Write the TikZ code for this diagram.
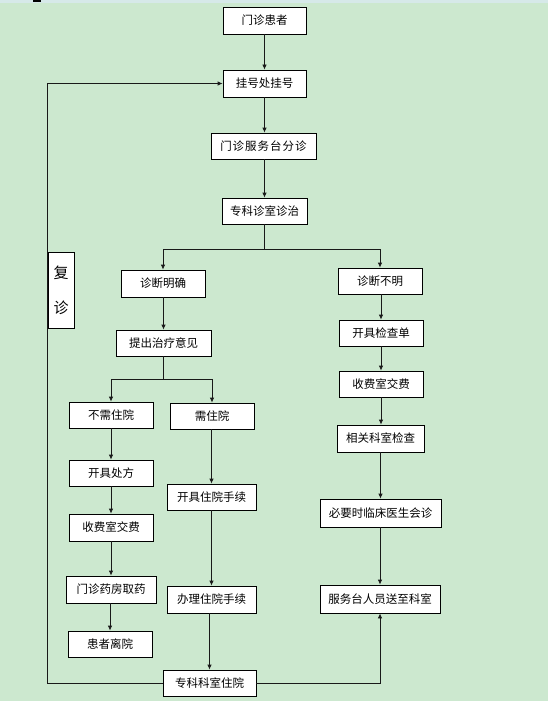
\documentclass[tikz,border=0pt]{standalone}
\usepackage{fontspec}
\newfontfamily\cjk{Noto Sans CJK SC}
\usetikzlibrary{arrows.meta}
\definecolor{bg}{RGB}{204,232,207}
\definecolor{topstrip}{RGB}{214,233,233}
\begin{document}
\begin{tikzpicture}[x=1pt,y=-1pt,
  box/.style={draw=black,fill=white,line width=0.8pt,inner sep=0pt,font=\cjk\fontsize{11.5}{13}\selectfont},
  ln/.style={line width=0.8pt,draw=black!90},
  arr/.style={ln,-{Latex[length=5pt,width=4.5pt]}}]
\fill[bg] (0,0) rectangle (548,701);
\useasboundingbox (0,0) rectangle (548,701);
\fill[topstrip] (0,0) rectangle (548,3);
\fill[black] (33,0) rectangle (41,2);
% nodes
\node[box,minimum width=83pt,minimum height=27pt] (a) at (264.5,20.5) {门诊患者};
\node[box,minimum width=83pt,minimum height=27pt] (b) at (264.5,83.5) {挂号处挂号};
\node[box,minimum width=105pt,minimum height=26pt] (c) at (263.5,146) {门\hspace{1pt}诊\hspace{1pt}服\hspace{1pt}务\hspace{1pt}台\hspace{1pt}分\hspace{1pt}诊};
\node[box,minimum width=85pt,minimum height=26pt] (d) at (264.5,211) {专科诊室诊治};
\node[box,minimum width=84pt,minimum height=27pt] (e) at (163,283.5) {诊断明确};
\node[box,minimum width=84pt,minimum height=26pt] (f) at (380,281) {诊断不明};
\node[box,minimum width=26pt,minimum height=76pt,font=\cjk\fontsize{15}{35}\selectfont,align=center] (g) at (61,290) {复\\诊};
\node[box,minimum width=95pt,minimum height=26pt] (h) at (163.5,343) {提出治疗意见};
\node[box,minimum width=84pt,minimum height=26pt] (i) at (111,415) {不需住院};
\node[box,minimum width=84pt,minimum height=26pt] (j) at (212,416) {需住院};
\node[box,minimum width=84pt,minimum height=26pt] (k) at (381,333) {开具检查单};
\node[box,minimum width=84pt,minimum height=26pt] (l) at (381,384) {收费室交费};
\node[box,minimum width=87pt,minimum height=27pt] (m) at (380.5,438.5) {相关科室检查};
\node[box,minimum width=84pt,minimum height=26pt] (n) at (111,473) {开具处方};
\node[box,minimum width=89pt,minimum height=26pt] (o) at (211.5,497) {开具住院手续};
\node[box,minimum width=84pt,minimum height=27pt] (p) at (111,527.5) {收费室交费};
\node[box,minimum width=90pt,minimum height=27pt] (q) at (111,589.5) {门诊药房取药};
\node[box,minimum width=84pt,minimum height=26pt] (r) at (110,644) {患者离院};
\node[box,minimum width=89pt,minimum height=27pt] (s) at (211.5,599.5) {办理住院手续};
\node[box,minimum width=93pt,minimum height=26pt] (t) at (209.5,683) {专科科室住院};
\node[box,minimum width=121pt,minimum height=28pt] (u) at (380.5,513) {必要时临床医生会诊};
\node[box,minimum width=120pt,minimum height=28pt] (v) at (380,599) {服务台人员送至科室};
% connectors
\coordinate (br1) at (264.5,249);
\coordinate (br2) at (163.5,379);
\draw[arr] (a) -- (b);
\draw[arr] (b.south) -- (b.south |- c.north);
\draw[arr] (c.south -| d.north) -- (d);
\draw[ln] (d) -- (br1);
\draw[arr] (br1) -| (e.north);
\draw[arr] (br1) -| (f.north);
\draw[arr] (e.south -| h.north) -- (h);
\draw[ln] (h) -- (br2);
\draw[arr] (br2) -| (i.north);
\draw[arr] (br2) -| (j.north);
\draw[arr] (i) -- (n);
\draw[arr] (n) -- (p);
\draw[arr] (p) -- (p.south |- q.north);
\draw[arr] (q.south -| r.north) -- (r);
\draw[arr] (j.south -| o.north) -- (o);
\draw[arr] (o) -- (s);
\draw[arr] (s.south -| t.north) -- (t);
\draw[arr] (f.south -| k.north) -- (k);
\draw[arr] (k) -- (l);
\draw[arr] (l) -- (l.south |- m.north);
\draw[arr] (m.south -| u.north) -- (u);
\draw[arr] (u.south -| v.north) -- (v);
\draw[arr] (t.east) -| (v.south);
\draw[arr] (t.west) -- (t.west -| g.west) |- (b.west);
\end{tikzpicture}
\end{document}
